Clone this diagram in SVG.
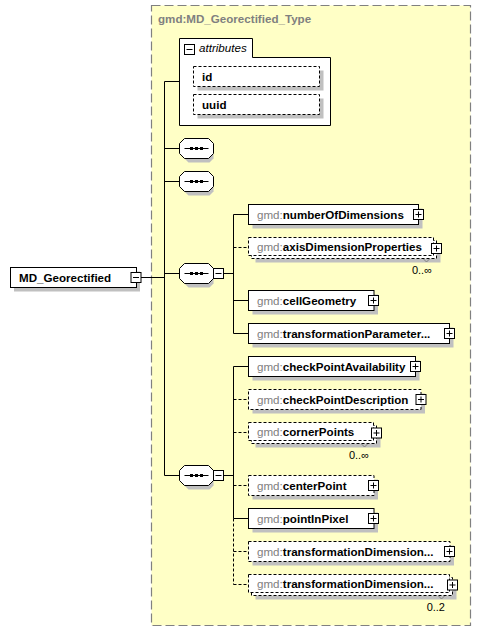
<svg xmlns="http://www.w3.org/2000/svg" width="481" height="632" viewBox="0 0 481 632">
<style>
text{font-family:"Liberation Sans",Arial,sans-serif;font-size:11.6px}
.b{font-weight:bold;fill:#000}
.g{fill:#808080}
.box{fill:#fff;stroke:#000;stroke-width:1}
.dbox{fill:#fff;stroke:#000;stroke-width:1;stroke-dasharray:3,2}
.sh{fill:#c0c0c0}
.ln{stroke:#000;stroke-width:1;fill:none}
.dl{stroke:#000;stroke-width:1;fill:none;stroke-dasharray:3,2}
.pm{fill:#fff;stroke:#000;stroke-width:1}
.mult{font-size:11px;fill:#000}
</style>
<defs>
<g id="plus"><rect class="pm" x="0" y="0" width="10" height="10"/><path class="ln" d="M2,5H8M5,2V8"/></g>
<g id="minus"><rect class="pm" x="0" y="0" width="10" height="10"/><path class="ln" d="M2,5H8"/></g>
<g id="seq">
<polygon class="sh" points="9,-6 30,-6 34,-2 34,10 30,14 9,14 5,10 5,-2"/>
<polygon class="box" points="5,-10 29,-10 34,-5 34,5 29,10 5,10 0,5 0,-5"/>
<path class="ln" d="M5,0H29" stroke-width="1.3"/>
<rect x="10.5" y="-1.5" width="3" height="3" fill="#000"/>
<rect x="15.5" y="-1.5" width="3" height="3" fill="#000"/>
<rect x="20.5" y="-1.5" width="3" height="3" fill="#000"/>
</g>
</defs>

<rect x="151.5" y="5.5" width="319" height="620" fill="#ffffc6" stroke="#808080" stroke-width="1.2" stroke-dasharray="9,4"/>
<text x="158" y="23" class="g" font-weight="bold">gmd:MD_Georectified_Type</text>

<g id="connectors">
<path class="ln" d="M164.5,81.5V475.5M164.5,81.5H179.5M164.5,148.5H179.5M164.5,181.5H179.5M164.5,273.5H179.5M164.5,475.5H179.5M141,277.5H164.5"/>
<path class="ln" d="M223.5,273.5H233.5M233.5,214.5V333.5M233.5,214.5H248.5M233.5,300.5H248.5M233.5,333.5H248.5"/>
<path class="dl" d="M233.5,247.5H248.5"/>
<path class="ln" d="M223.5,475.5H233.5M233.5,366.5V518.5M233.5,366.5H248.5M233.5,518.5H248.5"/>
<path class="dl" d="M233.5,518.5V584.5M233.5,399.5H248.5M233.5,432.5H248.5M233.5,485.5H248.5M233.5,551.5H248.5M233.5,584.5H248.5"/>
</g>

<g id="MD_Georectified">
<rect class="sh" x="14" y="271.5" width="126" height="20"/>
<rect class="box" x="10.5" y="267.5" width="126" height="20"/>
<text x="19" y="281.5" class="b">MD_Georectified</text>
<use href="#minus" x="131" y="272.5"/>
</g>

<g id="attributes">
<path class="box" d="M179.5,125.5V38.5H252.5V57.5H330.5V125.5Z"/>
<use href="#minus" x="184.5" y="44.5"/>
<text x="199" y="52" font-style="italic" fill="#000">attributes</text>
<g id="attr_id">
<rect class="sh" x="197.5" y="70.5" width="126" height="20"/>
<rect class="dbox" x="193.5" y="66.5" width="126" height="20"/>
<text x="202" y="80.5" class="b">id</text>
</g>
<g id="attr_uuid">
<rect class="sh" x="197.5" y="98.5" width="126" height="20"/>
<rect class="dbox" x="193.5" y="94.5" width="126" height="20"/>
<text x="202" y="108.5" class="b">uuid</text>
</g>
</g>

<g id="seq1"><use href="#seq" x="179.5" y="148.5"/></g>
<g id="seq2"><use href="#seq" x="179.5" y="181.5"/></g>
<g id="seq3"><use href="#seq" x="179.5" y="273.5"/><use href="#minus" x="213.5" y="268.5"/></g>
<g id="seq4"><use href="#seq" x="179.5" y="475.5"/><use href="#minus" x="213.5" y="470.5"/></g>

<g id="numberOfDimensions">
<rect class="sh" x="252.5" y="208.5" width="170" height="20"/>
<rect class="box" x="248.5" y="204.5" width="170" height="20"/>
<text x="257" y="218.5" class="g">gmd:<tspan class="b">numberOfDimensions</tspan></text>
<use href="#plus" x="413.5" y="209.5"/>
</g>

<g id="axisDimensionProperties">
<rect class="sh" x="255.5" y="244.5" width="185" height="18"/>
<rect class="dbox" x="251.5" y="240.5" width="185" height="18"/>
<rect class="dbox" x="248.5" y="237.5" width="185" height="18"/>
<text x="257" y="251" class="g">gmd:<tspan class="b">axisDimensionProperties</tspan></text>
<use href="#plus" x="431.5" y="243.5"/>
<polyline points="423.5,259 426.5,262 429.5,259" fill="none" stroke="#808080"/>
<text x="432" y="274" text-anchor="end" class="mult">0..∞</text>
</g>

<g id="cellGeometry">
<rect class="sh" x="252.5" y="294.5" width="125.5" height="20"/>
<rect class="box" x="248.5" y="290.5" width="125.5" height="20"/>
<text x="257" y="304.5" class="g">gmd:<tspan class="b">cellGeometry</tspan></text>
<use href="#plus" x="368.5" y="295.5"/>
</g>

<g id="transformationParameterAvailability">
<rect class="sh" x="252.5" y="327.5" width="201" height="20"/>
<rect class="box" x="248.5" y="323.5" width="201" height="20"/>
<text x="257" y="337.5" class="g">gmd:<tspan class="b">transformationParameter...</tspan></text>
<use href="#plus" x="444.5" y="328.5"/>
</g>

<g id="checkPointAvailability">
<rect class="sh" x="252.5" y="360.5" width="167" height="20"/>
<rect class="box" x="248.5" y="356.5" width="167" height="20"/>
<text x="257" y="370.5" class="g">gmd:<tspan class="b">checkPointAvailability</tspan></text>
<use href="#plus" x="410.5" y="361.5"/>
</g>

<g id="checkPointDescription">
<rect class="sh" x="252.5" y="393.5" width="172.5" height="20"/>
<rect class="dbox" x="248.5" y="389.5" width="172.5" height="20"/>
<text x="257" y="403.5" class="g">gmd:<tspan class="b">checkPointDescription</tspan></text>
<use href="#plus" x="416" y="394.5"/>
</g>

<g id="cornerPoints">
<rect class="sh" x="255.5" y="429.5" width="125" height="18"/>
<rect class="dbox" x="251.5" y="425.5" width="125" height="18"/>
<rect class="dbox" x="248.5" y="422.5" width="125" height="18"/>
<text x="257" y="436" class="g">gmd:<tspan class="b">cornerPoints</tspan></text>
<use href="#plus" x="371.5" y="428"/>
<polyline points="361.5,444 364.5,447 367.5,444" fill="none" stroke="#808080"/>
<text x="369" y="459" text-anchor="end" class="mult">0..∞</text>
</g>

<g id="centerPoint">
<rect class="sh" x="252.5" y="479.5" width="125.5" height="20"/>
<rect class="dbox" x="248.5" y="475.5" width="125.5" height="20"/>
<text x="257" y="489.5" class="g">gmd:<tspan class="b">centerPoint</tspan></text>
<use href="#plus" x="368.5" y="480.5"/>
</g>

<g id="pointInPixel">
<rect class="sh" x="252.5" y="512.5" width="125.5" height="20"/>
<rect class="box" x="248.5" y="508.5" width="125.5" height="20"/>
<text x="257" y="522.5" class="g">gmd:<tspan class="b">pointInPixel</tspan></text>
<use href="#plus" x="368.5" y="513.5"/>
</g>

<g id="transformationDimensionDescription">
<rect class="sh" x="252.5" y="545.5" width="201.5" height="20"/>
<rect class="dbox" x="248.5" y="541.5" width="201.5" height="20"/>
<text x="257" y="555.5" class="g">gmd:<tspan class="b">transformationDimension...</tspan></text>
<use href="#plus" x="444.5" y="546.5"/>
</g>

<g id="transformationDimensionMapping">
<rect class="sh" x="255.5" y="581.5" width="201" height="18"/>
<rect class="dbox" x="251.5" y="577.5" width="201" height="18"/>
<rect class="dbox" x="248.5" y="574.5" width="201" height="18"/>
<text x="257" y="588" class="g">gmd:<tspan class="b">transformationDimension...</tspan></text>
<use href="#plus" x="447.5" y="580"/>
<polyline points="438.5,596 441.5,599 444.5,596" fill="none" stroke="#808080"/>
<text x="445" y="611" text-anchor="end" class="mult">0..2</text>
</g>
</svg>
